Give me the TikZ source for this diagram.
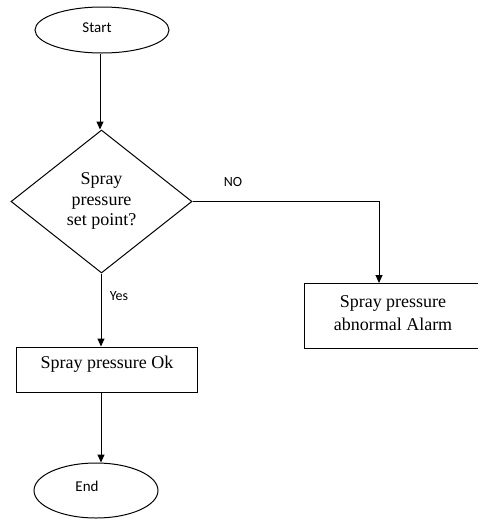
\documentclass[tikz,border=0pt]{standalone}
\usepackage{fontspec}
\setmainfont{Liberation Serif}
\newfontfamily\labelfont{Carlito}
\usetikzlibrary{shapes.geometric,arrows.meta}
\begin{document}
\begin{tikzpicture}[x=1pt,y=-1pt,
  line width=1pt,
  terminal/.style={draw,ellipse,inner sep=0pt,font=\labelfont\fontsize{15}{17}\selectfont},
  process/.style={draw,rectangle,inner sep=0pt,align=center,font=\fontsize{18}{23}\selectfont},
  decision/.style={draw,diamond,inner sep=0pt,align=center,font=\fontsize{18}{20.5}\selectfont},
  flow/.style={-{Triangle[length=8pt,width=7pt]}},
  tag/.style={font=\labelfont\fontsize{14}{16}\selectfont}]
\useasboundingbox (0,0) rectangle (478,520);

% terminals
\node[terminal,minimum width=134pt,minimum height=46pt] (start) at (102,30) {};
\node[font=\labelfont\fontsize{15}{17}\selectfont] (starttxt) at (97,28) {Start};
\node[terminal,minimum width=124pt,minimum height=55pt] (end) at (96,490.5) {};
\node[font=\labelfont\fontsize{15}{17}\selectfont] (endtxt) at (87,486) {End};

% decision
\node[decision,minimum width=181pt,minimum height=143pt] (dec) at (101.5,201.5) {};
\node[align=center,font=\fontsize{18}{20.5}\selectfont] (dectxt) at (101.5,201) {Spray\\pressure\\set point?};

% process boxes
\node[process,minimum width=181pt,minimum height=45pt] (ok) at (106.5,369.5) {};
\node[font=\fontsize{18}{23}\selectfont] (oktxt) at (107,364) {Spray pressure Ok};
\node[process,minimum width=174pt,minimum height=65pt,anchor=north west] (alarm) at (304,283) {};
\node[align=center,font=\fontsize{18}{23}\selectfont] (alarmtxt) at (393,313) {Spray pressure\\abnormal Alarm};

% connectors
\coordinate (bend) at (379,201.5);
\draw[flow] (start.south -| 100,0) -- (dec.north -| 100,0);
\draw[flow] (dec.south -| 101,0) -- (ok.north -| 101,0);
\draw[flow] (ok.south -| 101,0) -- (end.north -| 101,0);
\draw[flow] (dec.east) -- (bend) -- (alarm.north -| bend);

% branch labels
\node[tag] (no) at (233,182) {NO};
\node[tag] (yes) at (119,296) {Yes};
\end{tikzpicture}
\end{document}
